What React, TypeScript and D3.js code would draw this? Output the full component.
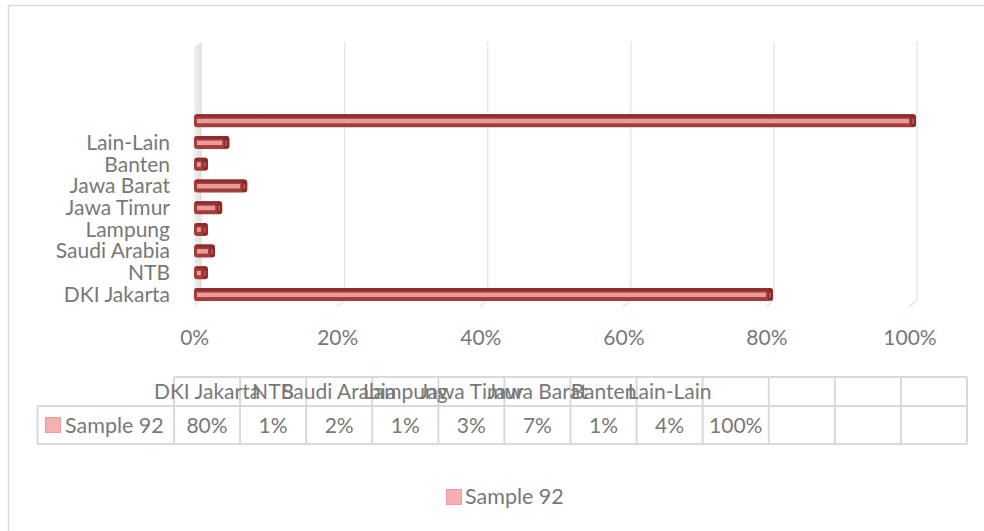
import React from "react";
import * as d3 from "d3";

const categories = ["DKI Jakarta", "NTB", "Saudi Arabia", "Lampung", "Jawa Timur", "Jawa Barat", "Banten", "Lain-Lain", "", "", "", ""];
const values: (number | null)[] = [0.80, 0.01, 0.02, 0.01, 0.03, 0.065, 0.01, 0.04, 1.0, null, null, null];
const tableLabels = ["80%", "1%", "2%", "1%", "3%", "7%", "1%", "4%", "100%", "", "", ""];
const seriesName = "Sample 92";
const xTicks = [0, 0.2, 0.4, 0.6, 0.8, 1.0];

const W = 984;
const H = 531;
const FONT = "Lato, Carlito, Calibri, 'Open Sans', sans-serif";
const TEXT = "#787878";
const GRID = "#e2e2e2";
const TABLE_LINE = "#d9d9d9";

export default function App() {
  const ids = categories.map((_, i) => String(i));
  const xb = d3.scaleLinear().domain([0, 1]).range([201.7, 917]);
  const depthX = -8;
  const depthY = 7;
  const y = d3.scaleBand().domain(ids).range([305.4, 44.8]).paddingInner(0).paddingOuter(0);
  const yTopBack = 41.7;
  const yBottomBack = 300;
  const fmt = d3.format(".0%");

  const tableX0 = 37.5;
  const colStart = 174;
  const colW = (967 - 174) / categories.length;
  const rowTop = 377;
  const rowMid = 406;
  const rowBot = 444;

  const barH = 13;
  const x0 = 194;

  return (
    <svg width={W} height={H} style={{ position: "absolute", left: 0, top: 0, background: "#fff" }} fontFamily={FONT}>
      <rect x={8.5} y={5.5} width={1000} height={600} fill="#fff" stroke={TABLE_LINE} strokeWidth={1.5} />

      {xTicks.slice(1).map((t) => (
        <polyline
          key={"g" + t}
          points={`${xb(t)},${yTopBack} ${xb(t)},${yBottomBack} ${xb(t) + depthX},${yBottomBack + depthY}`}
          fill="none"
          stroke={GRID}
          strokeWidth={1.2}
        />
      ))}

      <defs>
        <linearGradient id="wall" x1="0" x2="1" y1="0" y2="0">
          <stop offset="0" stopColor="#f2f2f2" />
          <stop offset="1" stopColor="#dedede" />
        </linearGradient>
      </defs>
      <polygon
        points={`${xb(0) + depthX},${yTopBack + 5} ${xb(0)},${yTopBack} ${xb(0)},${yBottomBack} ${xb(0) + depthX},${yBottomBack + depthY}`}
        fill="url(#wall)"
      />

      {values.map((v, i) => {
        if (v == null) return null;
        const c = (y(ids[i]) as number) + y.bandwidth() / 2;
        const xe = xb(v) - 1;
        const top = c - barH / 2;
        return (
          <g key={"b" + i}>
            <rect x={x0} y={top} width={xe - x0} height={barH} rx={3} fill="#a43d3a" />
            <rect x={x0 + 1} y={top} width={xe - x0 - 2} height={3} rx={1.5} fill="#8e2f2d" />
            <rect x={x0 + 3} y={c - 2} width={Math.max(1, xe - x0 - 10)} height={4.5} fill="#e79c9a" />
            <rect x={xe - 5} y={top + 0.5} width={5} height={barH - 1} rx={2} fill="#8a2b29" />
            <rect x={xe - 4} y={c - 2} width={2} height={5} fill="#b9504d" />
          </g>
        );
      })}

      {categories.map((cat, i) =>
        cat ? (
          <text
            key={"yl" + i}
            x={170}
            y={(y(ids[i]) as number) + y.bandwidth() / 2 + 2}
            textAnchor="end"
            dominantBaseline="middle"
            fontSize={21}
            fill={TEXT}
          >
            {cat}
          </text>
        ) : null
      )}

      {xTicks.map((t) => (
        <text key={"xt" + t} x={xb(t) + depthX + 1} y={340} textAnchor="middle" dominantBaseline="middle" fontSize={21} fill={TEXT}>
          {fmt(t)}
        </text>
      ))}

      <g stroke={TABLE_LINE} strokeWidth={2} fill="none">
        <line x1={colStart} x2={colStart + colW * categories.length} y1={rowTop} y2={rowTop} />
        <line x1={tableX0} x2={colStart + colW * categories.length} y1={rowMid} y2={rowMid} />
        <line x1={tableX0} x2={colStart + colW * categories.length} y1={rowBot} y2={rowBot} />
        <line x1={tableX0} x2={tableX0} y1={rowMid} y2={rowBot} />
        {d3.range(categories.length + 1).map((j) => (
          <line key={"tv" + j} x1={colStart + colW * j} x2={colStart + colW * j} y1={rowTop} y2={rowBot} />
        ))}
      </g>
      {categories.map((cat, i) => (
        <text key={"th" + i} x={colStart + colW * (i + 0.5)} y={399} textAnchor="middle" fontSize={21} fill={TEXT}>
          {cat}
        </text>
      ))}
      {tableLabels.map((lab, i) =>
        lab ? (
          <text key={"td" + i} x={colStart + colW * (i + 0.5)} y={432.5} textAnchor="middle" fontSize={21} fill={TEXT}>
            {lab}
          </text>
        ) : null
      )}
      <rect x={45.5} y={417.5} width={15} height={15} fill="#f7b0b0" stroke="#e89c9c" strokeWidth={1} />
      <text x={65} y={432.5} fontSize={21.5} fill={TEXT}>
        {seriesName}
      </text>

      <rect x={446.5} y={489.5} width={15} height={15} fill="#f7b0b0" stroke="#e89c9c" strokeWidth={1} />
      <text x={465} y={504} fontSize={21.5} fill={TEXT}>
        {seriesName}
      </text>
    </svg>
  );
}
